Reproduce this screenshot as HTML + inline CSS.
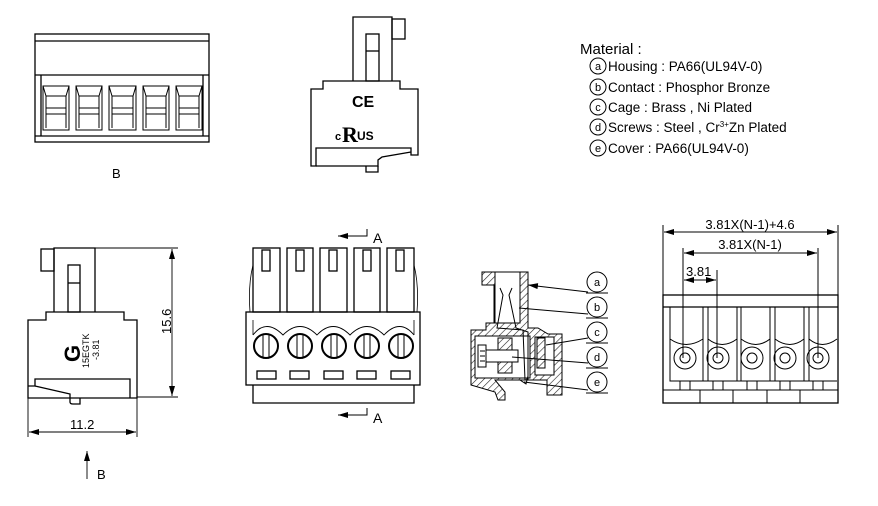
<!DOCTYPE html>
<html><head><meta charset="utf-8"><style>
html,body{margin:0;padding:0;background:#fff;}
svg{display:block;font-family:"Liberation Sans",Arial,sans-serif;}
</style></head><body>
<svg width="878" height="506" viewBox="0 0 878 506" xmlns="http://www.w3.org/2000/svg">
<defs>
<pattern id="h" width="5" height="5" patternUnits="userSpaceOnUse" patternTransform="rotate(45)">
<line x1="0" y1="0" x2="0" y2="5" stroke="#222" stroke-width="1.2"/>
</pattern>
<marker id="ar" viewBox="0 0 10 6" refX="10" refY="3" markerWidth="10" markerHeight="6" orient="auto-start-reverse" markerUnits="userSpaceOnUse">
<path d="M0,0 L10,3 L0,6 z" fill="#000"/>
</marker>
</defs>
<g fill="none" stroke="#000" stroke-width="1.3">
<rect x="35" y="34" width="174" height="108"/>
<line x1="35" y1="41" x2="209" y2="41"/>
<line x1="35" y1="75" x2="209" y2="75"/>
<line x1="41" y1="75" x2="41" y2="136"/>
<line x1="203" y1="75" x2="203" y2="136"/>
<line x1="35" y1="136" x2="209" y2="136"/>
<g stroke-width="1">
<rect x="43" y="86" width="26" height="44"/><path d="M43,86 L46,96 L66,96 L69,86 M46,96 L46,128 M66,96 L66,128 M46,108 L66,108 M46,114 L66,114"/>
<rect x="76" y="86" width="26" height="44"/><path d="M76,86 L79,96 L99,96 L102,86 M79,96 L79,128 M99,96 L99,128 M79,108 L99,108 M79,114 L99,114"/>
<rect x="109" y="86" width="27" height="44"/><path d="M109,86 L112,96 L133,96 L136,86 M112,96 L112,128 M133,96 L133,128 M112,108 L133,108 M112,114 L133,114"/>
<rect x="143" y="86" width="26" height="44"/><path d="M143,86 L146,96 L166,96 L169,86 M146,96 L146,128 M166,96 L166,128 M146,108 L166,108 M146,114 L166,114"/>
<rect x="176" y="86" width="26" height="44"/><path d="M176,86 L179,96 L199,96 L202,86 M179,96 L179,128 M199,96 L199,128 M179,108 L199,108 M179,114 L199,114"/>
</g>
<path d="M353,81 L353,17 L392,17 L392,81"/>
<rect x="366" y="34" width="13" height="47"/><line x1="366" y1="51" x2="379" y2="51"/>
<rect x="392" y="19" width="13" height="20"/>
<path d="M323,81 L400,81 L400,89 L418,89 L418,155 L411,155 L411,148 L316,148 L316,166 L311,166 L311,89 L323,89 Z"/>
<path d="M316,166 L378,166 L378,160 L382,157 L411,152"/>
<path d="M366,166 L366,172 L378,172 L378,166"/>
<rect x="41" y="249" width="13" height="22"/>
<path d="M54,312 L54,248 L95,248 L95,312"/>
<rect x="68" y="265" width="12" height="47"/><line x1="68" y1="283" x2="80" y2="283"/>
<path d="M46,312 L124,312 L124,320 L137,320 L137,398 L28,398 L28,320 L46,320 Z"/>
<path d="M28,386 L35,386 L35,379 L130,379 L130,398"/>
<path d="M35,386 L70,394 L70,398"/>
<path d="M70,398 L70,402 Q70,404 73,404 L80,404 L80,398"/>
<g stroke-width="0.9">
<line x1="95" y1="248" x2="178" y2="248"/>
<line x1="137" y1="397" x2="178" y2="397"/>
<line x1="172" y1="249" x2="172" y2="396" marker-start="url(#ar)" marker-end="url(#ar)"/>
<line x1="28" y1="398" x2="28" y2="437"/>
<line x1="137" y1="398" x2="137" y2="437"/>
<line x1="29" y1="432" x2="136" y2="432" marker-start="url(#ar)" marker-end="url(#ar)"/>
<line x1="87" y1="479" x2="87" y2="451" marker-end="url(#ar)"/>
</g>
<g>
<rect x="253" y="248" width="27" height="64"/><rect x="262" y="250" width="8" height="21"/>
<rect x="287" y="248" width="26" height="64"/><rect x="296" y="250" width="8" height="21"/>
<rect x="320" y="248" width="27" height="64"/><rect x="329" y="250" width="8" height="21"/>
<rect x="354" y="248" width="26" height="64"/><rect x="363" y="250" width="8" height="21"/>
<rect x="387" y="248" width="27" height="64"/><rect x="396" y="250" width="8" height="21"/>
<path d="M253,265 Q248,285 250,312 M414,265 Q419,285 417,312" stroke-width="0.8"/>
<rect x="246" y="312" width="174" height="73"/>
<path d="M253,385 L253,403 L414,403 L414,385"/>
<path d="M253,320 L253,335 M414,320 L414,335" stroke-width="0.8"/>
<path d="M253,335 Q266,318 283,335 Q300,318 317,335 Q333,318 350,335 Q367,318 384,335 Q400,318 414,335" stroke-width="0.9"/>
<g stroke-width="2">
<circle cx="266" cy="346" r="12"/><circle cx="300" cy="346" r="12"/><circle cx="334" cy="346" r="12"/><circle cx="367" cy="346" r="12"/><circle cx="401" cy="346" r="12"/>
</g>
<path d="M263,335 V358 M269,335 V358 M297,335 V358 M303,335 V358 M331,335 V358 M337,335 V358 M364,335 V358 M370,335 V358 M398,335 V358 M404,335 V358" stroke-width="1"/>
<rect x="257" y="371" width="19" height="8"/><rect x="290" y="371" width="19" height="8"/><rect x="324" y="371" width="19" height="8"/><rect x="357" y="371" width="19" height="8"/><rect x="391" y="371" width="19" height="8"/>
<g stroke-width="1"><path d="M367,229 V236 H338" marker-end="url(#ar)"/><path d="M367,408 V415 H338" marker-end="url(#ar)"/></g>
</g>
<g stroke-width="1">
<path d="M482,272 H528 V328 H538 L548,334 H562 V395 H547 V380 H495 L505,392 L505,400 H498 L495,392 L471,385 V330 H486 V323 H494 V285 H482 Z" fill="url(#h)"/>
<rect x="495" y="272" width="25" height="51" fill="#fff"/>
<path d="M475,336 H530 V378 H475 Z" fill="#fff"/>
<rect x="535" y="337" width="19" height="38" fill="#fff"/>
<rect x="498" y="338" width="14" height="35" fill="url(#h)"/>
<rect x="537" y="338" width="8" height="30" fill="url(#h)"/>
<rect x="478" y="345" width="8" height="22" fill="#fff"/>
<path d="M486,350 H518 V362 H486 Z" fill="#fff"/>
<path d="M480,351 H485 M480,356 H485 M480,361 H485"/>
<path d="M500,288 L503,295 L497,328 L523,330 L525,380 M512,288 L509,295 L516,328 L528,332 L528,380"/>
<path d="M520,380 L526,384 L528,376"/>
<path d="M528,285 L588,292 M519,308 L588,314 M546,345 L588,338 M512,357 L588,363 M524,382 L588,390" marker-start="url(#ar)"/>
</g>
<g stroke-width="1"><circle cx="597" cy="282" r="10"/><circle cx="597" cy="307" r="10"/><circle cx="597" cy="332" r="10"/><circle cx="597" cy="357" r="10"/><circle cx="597" cy="382" r="10"/>
<path d="M586,293 H608 M586,318 H608 M586,343 H608 M586,368 H608 M586,393 H608"/></g>
<rect x="663" y="295" width="175" height="108"/>
<line x1="663" y1="307" x2="838" y2="307"/>
<g stroke-width="1">
<path d="M670,307 V381 H837 M703,307 V381 M737,307 V381 M770,307 V381 M804,307 V381 M708,307 V381 M741,307 V381 M775,307 V381 M809,307 V381"/>
<path d="M670,339 Q686,350 703,339 M708,339 Q722,350 737,339 M741,339 Q756,350 770,339 M775,339 Q790,350 804,339 M809,339 Q822,350 837,339"/>
<circle cx="685" cy="358" r="11"/><circle cx="685" cy="358" r="5"/>
<circle cx="718" cy="358" r="11"/><circle cx="718" cy="358" r="5"/>
<circle cx="752" cy="358" r="11"/><circle cx="752" cy="358" r="5"/>
<circle cx="785" cy="358" r="11"/><circle cx="785" cy="358" r="5"/>
<circle cx="818" cy="358" r="11"/><circle cx="818" cy="358" r="5"/>
<path d="M680,381 V390 H690 V381 M713,381 V390 H723 V381 M747,381 V390 H757 V381 M780,381 V390 H790 V381 M813,381 V390 H823 V381"/>
<path d="M663,390 H838 M700,390 V403 M733,390 V403 M767,390 V403 M800,390 V403"/>
<path d="M663,295 V225 M838,295 V225 M683,358 V248 M717,358 V270 M818,358 V248"/>
<line x1="664" y1="232" x2="837" y2="232" marker-start="url(#ar)" marker-end="url(#ar)"/>
<line x1="684" y1="253" x2="817" y2="253" marker-start="url(#ar)" marker-end="url(#ar)"/>
<line x1="684" y1="280" x2="716" y2="280" marker-start="url(#ar)" marker-end="url(#ar)"/>
</g>
<g stroke-width="1"><circle cx="598" cy="66" r="8"/><circle cx="598" cy="87" r="8"/><circle cx="598" cy="107" r="8"/><circle cx="598" cy="127" r="8"/><circle cx="598" cy="148" r="8"/></g>
</g>
<g fill="#000" font-size="13">
<text x="112" y="178">B</text>
<text x="352" y="107" font-size="16" font-weight="bold">CE</text>
<text x="335" y="140" font-size="11" font-weight="bold">c</text>
<text x="342" y="142" font-size="22" font-weight="bold" font-family="Liberation Serif">R</text>
<text x="357" y="140" font-size="12" font-weight="bold">US</text>
<text x="0" y="0" font-size="22" font-weight="bold" transform="translate(80,362) rotate(-90)">G</text>
<text x="0" y="0" font-size="9" transform="translate(89,368) rotate(-90)">15EGTK</text>
<text x="0" y="0" font-size="9" transform="translate(99,360) rotate(-90)">-3.81</text>
<text x="0" y="0" font-size="13" transform="translate(171,334) rotate(-90)">15.6</text>
<text x="70" y="429">11.2</text>
<text x="97" y="479">B</text>
<text x="373" y="243" font-size="14">A</text>
<text x="373" y="423" font-size="14">A</text>
<g font-size="11" text-anchor="middle"><text x="597" y="286">a</text><text x="597" y="311">b</text><text x="597" y="336">c</text><text x="597" y="361">d</text><text x="597" y="386">e</text></g>
<text x="750" y="229" text-anchor="middle">3.81X(N-1)+4.6</text>
<text x="750" y="249" text-anchor="middle">3.81X(N-1)</text>
<text x="686" y="276">3.81</text>
<text x="580" y="54" font-size="15">Material :</text>
<g font-size="11" text-anchor="middle"><text x="598" y="70">a</text><text x="598" y="91">b</text><text x="598" y="111">c</text><text x="598" y="131">d</text><text x="598" y="152">e</text></g>
<g font-size="13.5">
<text x="608" y="71">Housing : PA66(UL94V-0)</text>
<text x="608" y="92">Contact : Phosphor Bronze</text>
<text x="608" y="112">Cage : Brass , Ni Plated</text>
<text x="608" y="132">Screws : Steel , Cr<tspan font-size="8" dy="-5">3+</tspan><tspan dy="5">Zn Plated</tspan></text>
<text x="608" y="153">Cover : PA66(UL94V-0)</text>
</g>
</g>
</svg>
</body></html>
